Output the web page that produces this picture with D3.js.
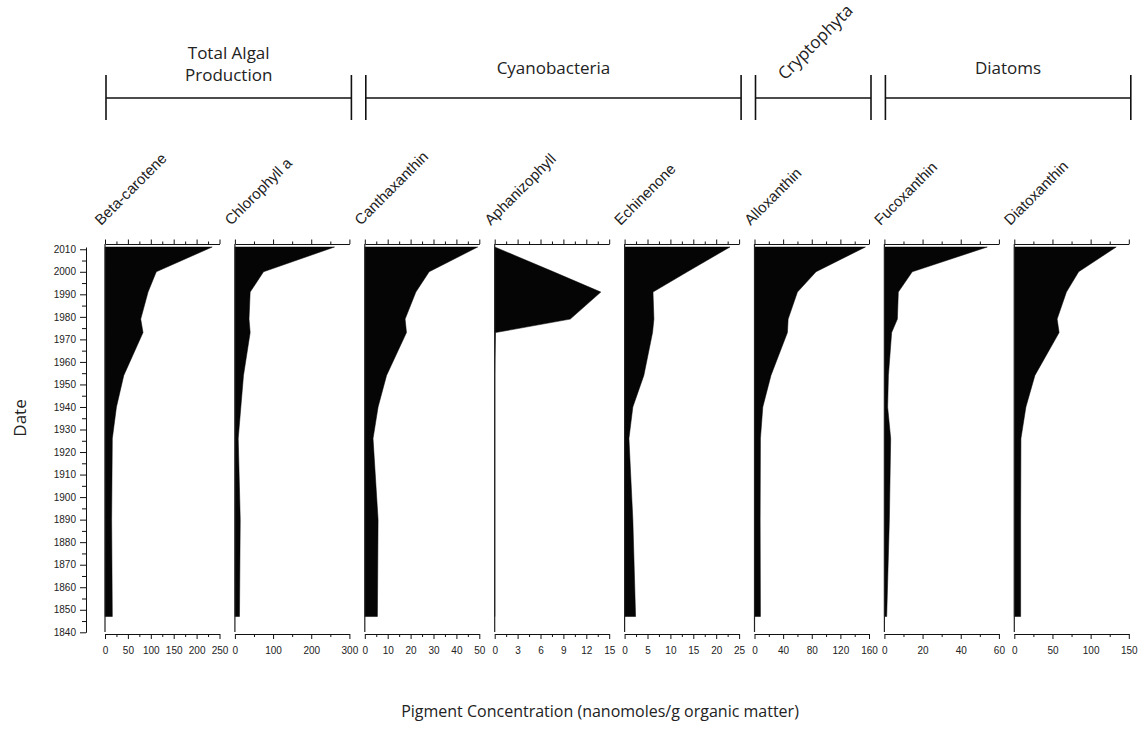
<!DOCTYPE html>
<html>
<head>
<meta charset="utf-8">
<script src="https://d3js.org/d3.v7.min.js"></script>
<style>
  body { margin: 0; background: #fff; }
  svg { display: block; }
  .tick text { font-family: "Liberation Sans", Arial, sans-serif; fill: #222; }
  .domain, .tick line { stroke: #111; }
</style>
</head>
<body>
<svg id="chart" width="1140" height="730"></svg>
<script>
// sample dates (core depths converted to years)
const dates = [2011, 2000, 1991, 1979, 1973, 1954, 1940, 1926, 1890, 1847];

const pigments = ['Beta-carotene', 'Chlorophyll a', 'Canthaxanthin', 'Aphanizophyll',
  'Echinenone', 'Alloxanthin', 'Fucoxanthin', 'Diatoxanthin'];
const maxima = [250, 300, 50, 15, 25, 160, 60, 150];
const labelSteps = [50, 100, 10, 3, 5, 40, 20, 50];

// concentrations, one array per pigment, same order as dates
const betaCarotene  = [234, 112, 94, 78, 83, 41, 25, 16, 14.5, 16];
const chlorophyllA  = [261, 75, 40, 37, 40, 22.5, 15.6, 8.7, 14, 12];
const canthaxanthin = [49.3, 28.1, 22.3, 17.6, 18.2, 9.5, 5.8, 3.6, 5.8, 5.5];
const aphanizophyll = [0, 7.7, 13.9, 9.9, 0.1, 0, 0, 0, 0, 0];
const echinenone    = [23, 13.7, 6.2, 6.4, 6.1, 4.2, 1.8, 0.95, 1.8, 2.4];
const alloxanthin   = [155, 86, 60, 47, 46, 23, 11.6, 8.3, 7.9, 8.3];
const fucoxanthin   = [53.9, 14.6, 7.3, 6.8, 3.8, 2.1, 1.7, 3.3, 2.6, 1.2];
const diatoxanthin  = [133.5, 84.3, 68.3, 56.1, 58.7, 27, 15.2, 8.7, 8.3, 8.3];

const series = [betaCarotene, chlorophyllA, canthaxanthin, aphanizophyll,
  echinenone, alloxanthin, fucoxanthin, diatoxanthin];

const groups = [['Total Algal', 'Production'], ['Cyanobacteria'], ['Cryptophyta'], ['Diatoms']];
const groupFirst = [0, 2, 5, 6];
const groupLast = [1, 4, 5, 7];

const yearTicks = d3.range(1840, 2011, 5);

var svg = d3.select('#chart');

var panelLeft = 105, panelStep = 129.9, panelWidth = 114.5,
  axisTop = 244, axisBottom = 634;

var y = d3.scaleLinear().domain([1840, 2011]).range([632.3, 247]);

// Date axis
var yAxis = svg.append('g')
  .attr('transform', 'translate(86,0)')
  .call(d3.axisLeft(y).tickValues(yearTicks).tickSizeOuter(0)
    .tickFormat(d => d % 10 === 0 ? d : ''));
yAxis.selectAll('.tick line').attr('x2', d => d % 10 === 0 ? -6 : -4);
yAxis.selectAll('.tick text').attr('x', -10).style('font-size', '10px');

svg.append('text')
  .attr('transform', 'translate(26,418) rotate(-90)')
  .attr('text-anchor', 'middle')
  .style('font-family', '"Open Sans", sans-serif')
  .style('font-size', '17px')
  .style('fill', '#222')
  .text('Date');

var xs = [];

pigments.forEach(function(name, i) {
  var left = panelLeft + i * panelStep;
  var x = d3.scaleLinear().domain([0, maxima[i]]).range([left, left + panelWidth]);
  xs.push(x);
  var step = labelSteps[i];
  var ticks = d3.range(0, maxima[i] + 1e-9, step / 2);
  var isMajor = d => Math.abs(d / step - Math.round(d / step)) < 1e-6;

  var rows = dates.map((d, k) => ({date: d, value: series[i][k]}));

  var area = d3.area()
    .y(d => y(d.date))
    .x0(x(0))
    .x1(d => x(d.value));

  svg.append('path')
    .datum(rows)
    .attr('d', area)
    .attr('fill', '#050505')
    .attr('stroke', '#050505')
    .attr('stroke-width', 0.5);

  // zero line of the panel
  svg.append('line')
    .attr('x1', x(0)).attr('x2', x(0))
    .attr('y1', axisTop).attr('y2', 632)
    .attr('stroke', '#222').attr('stroke-width', 1.2);

  var top = svg.append('g')
    .attr('transform', 'translate(0,' + axisTop + ')')
    .call(d3.axisTop(x).tickValues(ticks).tickSizeOuter(0).tickFormat(''));
  top.selectAll('.tick line').attr('y2', d => isMajor(d) ? -4.5 : -2.5);

  var bottom = svg.append('g')
    .attr('transform', 'translate(0,' + axisBottom + ')')
    .call(d3.axisBottom(x).tickValues(ticks).tickSizeOuter(0)
      .tickFormat(d => isMajor(d) ? d : ''));
  bottom.selectAll('.tick line').attr('y2', d => isMajor(d) ? 5 : 3);
  bottom.selectAll('.tick text').attr('y', 13).style('font-size', '10px');

  svg.append('text')
    .attr('transform', 'translate(' + (left - 4) + ',226) rotate(-45)')
    .style('font-family', '"Liberation Sans", Arial, sans-serif')
    .style('font-size', '15px')
    .style('fill', '#222')
    .text(name);
});

// group brackets
groups.forEach(function(lines, g) {
  var x0 = xs[groupFirst[g]](0) + 1,
    x1 = xs[groupLast[g]](maxima[groupLast[g]]) + 2,
    mid = (x0 + x1) / 2;
  var b = svg.append('g').attr('stroke', '#111').attr('stroke-width', 1.6);
  b.append('line').attr('x1', x0).attr('x2', x1).attr('y1', 98).attr('y2', 98);
  b.append('line').attr('x1', x0).attr('x2', x0).attr('y1', 75).attr('y2', 120);
  b.append('line').attr('x1', x1).attr('x2', x1).attr('y1', 75).attr('y2', 120);

  var t = svg.append('text')
    .style('font-family', '"Open Sans", sans-serif')
    .style('font-size', '17px')
    .style('fill', '#222')
    .attr('text-anchor', 'middle');
  if (lines[0] === 'Cryptophyta') {
    t.attr('transform', 'translate(' + (mid + 2) + ',42) rotate(-45)')
      .attr('dy', '0.35em')
      .text(lines[0]);
  } else if (lines.length === 2) {
    t.attr('x', mid).attr('y', 59).text(lines[0]);
    svg.append('text')
      .style('font-family', '"Open Sans", sans-serif')
      .style('font-size', '17px')
      .style('fill', '#222')
      .attr('text-anchor', 'middle')
      .attr('x', mid).attr('y', 81).text(lines[1]);
  } else {
    t.attr('x', mid).attr('y', 74).text(lines[0]);
  }
});

svg.append('text')
  .attr('x', 600).attr('y', 717)
  .attr('text-anchor', 'middle')
  .style('font-family', '"Open Sans", sans-serif')
  .style('font-size', '16px')
  .style('fill', '#222')
  .text('Pigment Concentration (nanomoles/g organic matter)');
</script>
</body>
</html>
